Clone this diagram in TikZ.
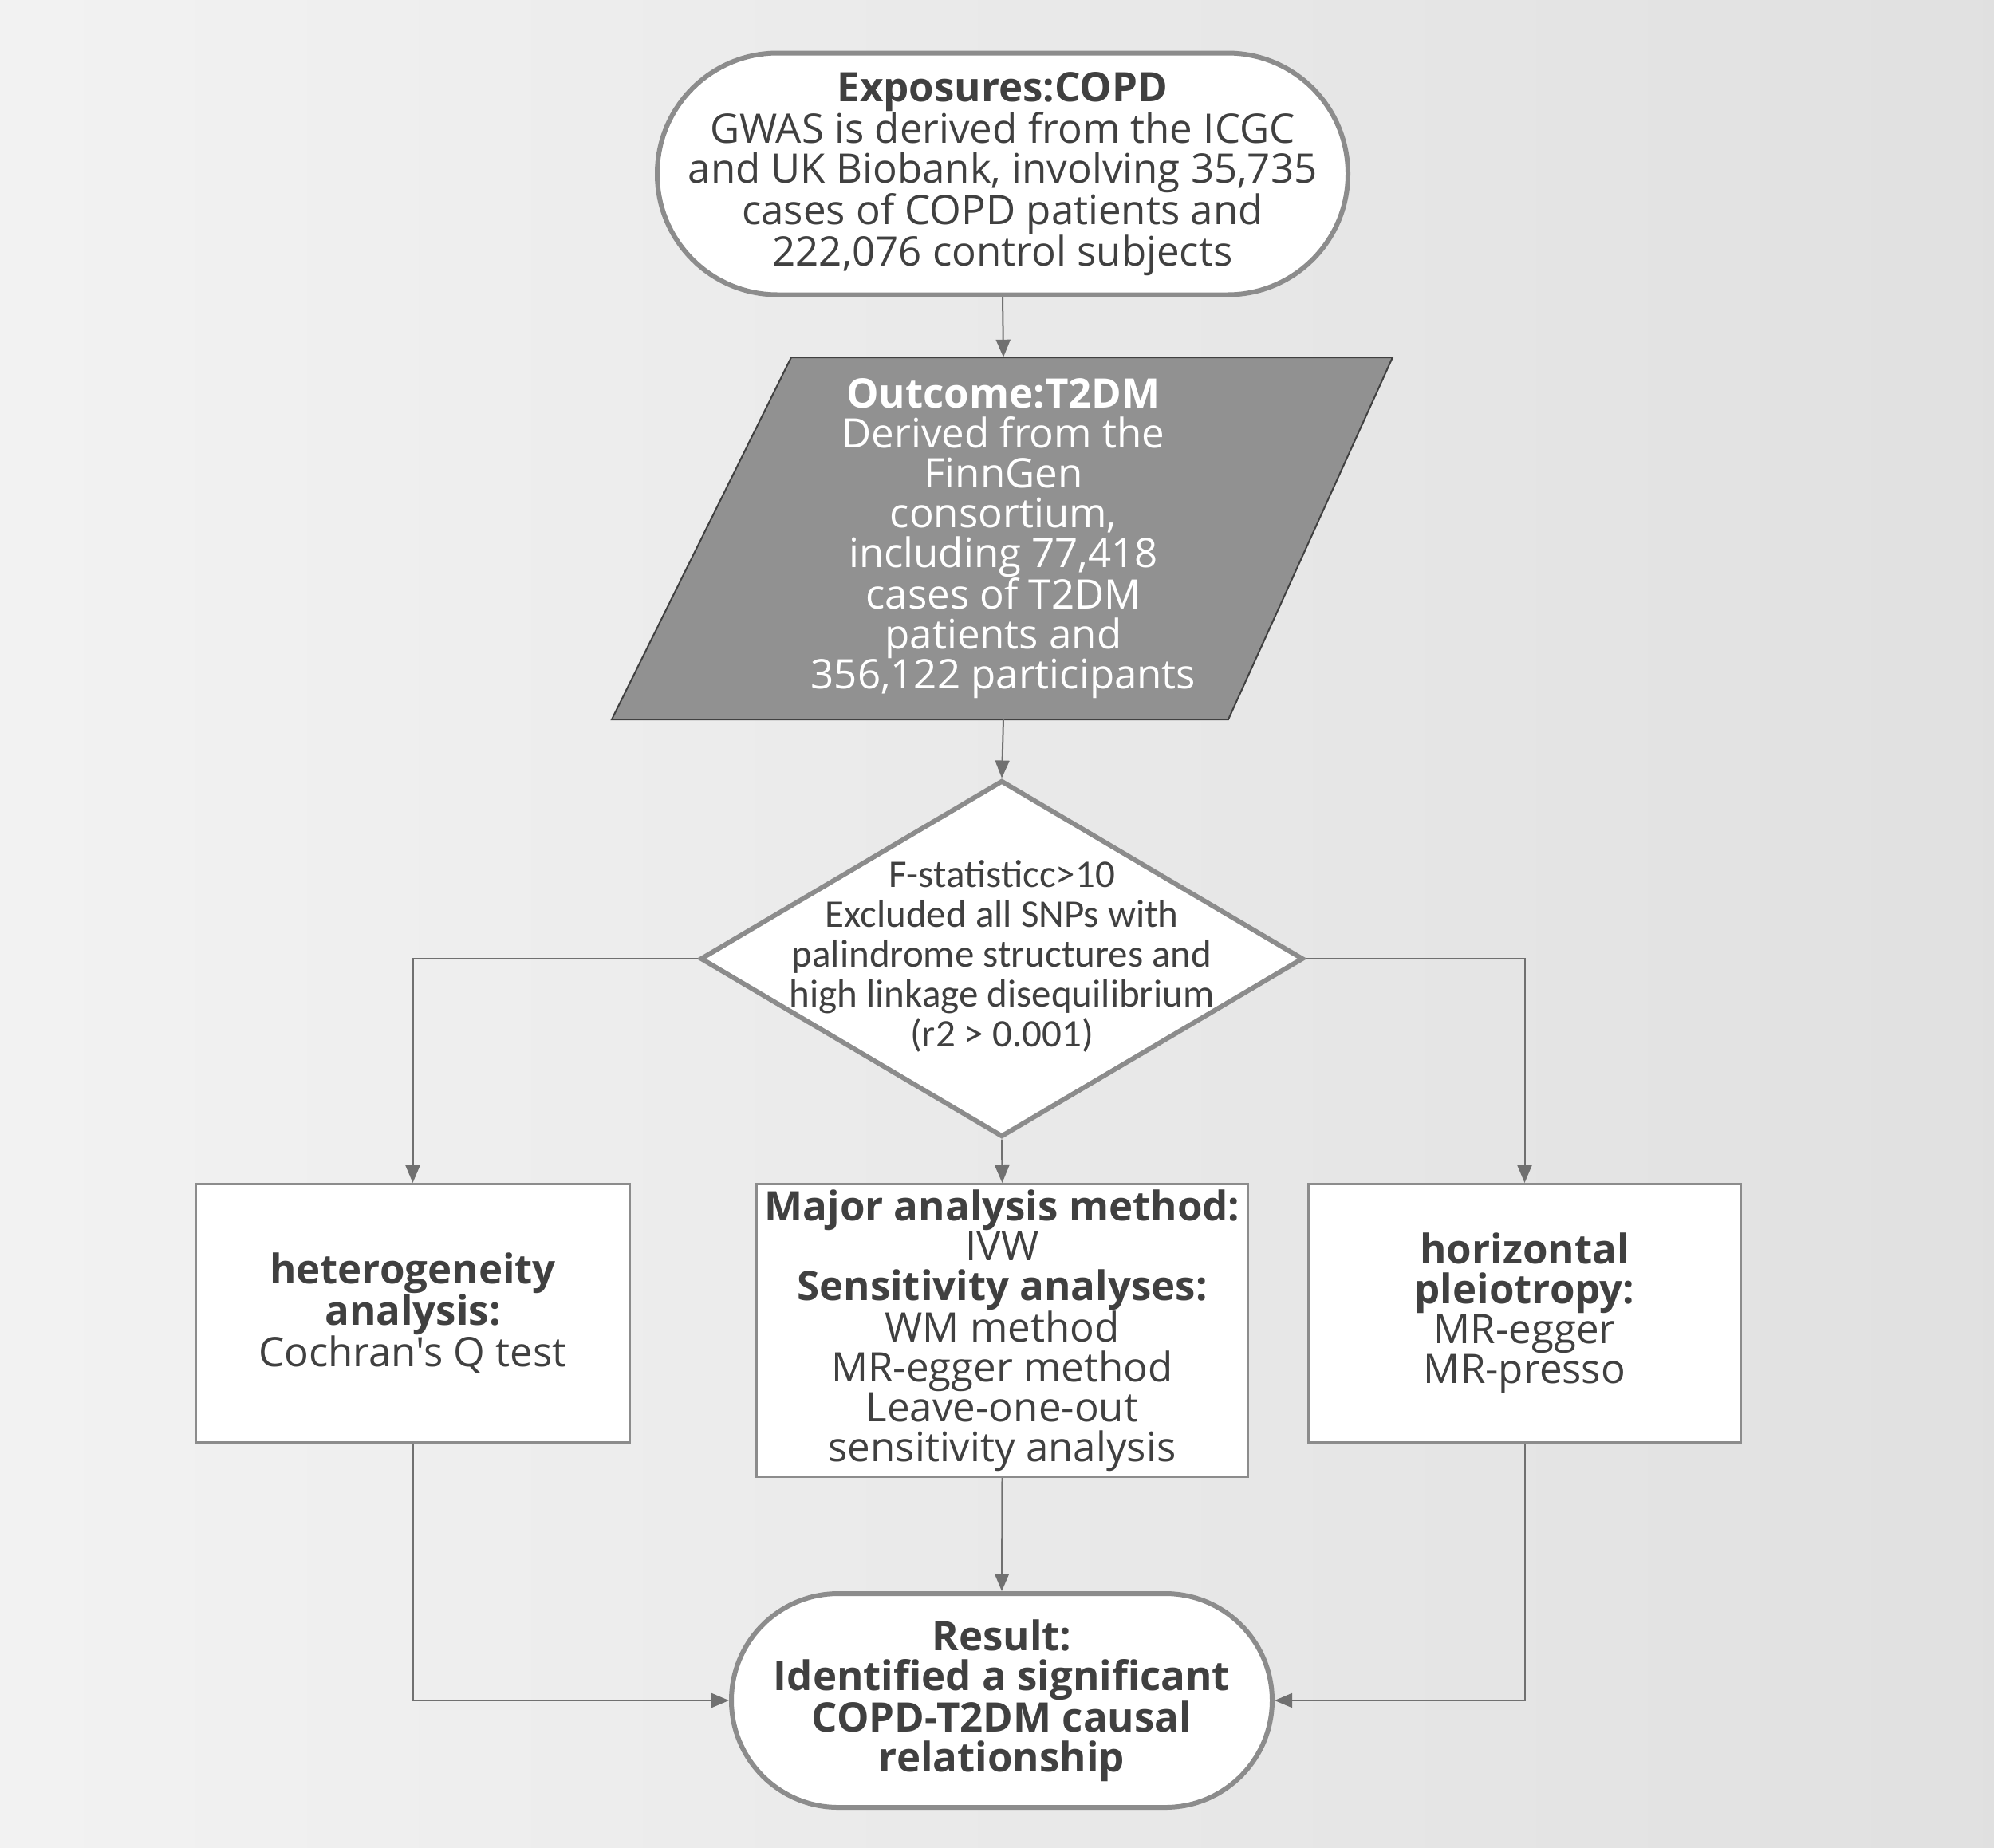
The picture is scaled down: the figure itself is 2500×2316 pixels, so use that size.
\documentclass[tikz,border=0pt]{standalone}
\usepackage{fontspec}
\setmainfont{Open Sans}[Ligatures=TeXOff]
\newfontfamily\calfont{Carlito}
\usetikzlibrary{shapes.geometric,arrows.meta}
\definecolor{txtgray}{HTML}{404040}
\definecolor{edgegray}{HTML}{8C8C8C}
\definecolor{linegray}{HTML}{707070}
\definecolor{slantfill}{HTML}{919191}
\begin{document}
\begin{tikzpicture}[x=1pt, y=1pt,
    every node/.style={text=txtgray, align=center, font=\fontsize{51}{50}\selectfont},
    terminal/.style={draw=edgegray, line width=6pt, fill=white},
    slantbox/.style={draw=black!75, line width=2pt, fill=slantfill, line join=miter},
    decision/.style={diamond, draw=edgegray, line width=6pt, fill=white,
        minimum width=756pt, minimum height=447pt, inner sep=0pt},
    methodbox/.style={rectangle, draw=edgegray, line width=3pt, fill=white}]

    % background
    \shade[left color=black!5, right color=black!12] (0,0) rectangle (2500,-2316);
    \useasboundingbox (0,0) rectangle (2500,-2316);

    \node[terminal, rounded corners=151pt, minimum width=866pt, minimum height=303pt] (expo) at (1257,-218)
        {\textbf{Exposures:COPD}\\GWAS is derived from the ICGC\\and UK Biobank, involving 35,735\\cases of COPD patients and\\222,076 control subjects};

    % outcome parallelogram
    \draw[slantbox] (992,-448) -- (1746,-448) -- (1540,-902) -- (767,-902) -- cycle;
    \node[text=white, minimum height=454pt, inner sep=0pt] (out) at (1258,-675)
        {\textbf{Outcome:T2DM}\\Derived from the\\FinnGen\\consortium,\\including 77,418\\cases of T2DM\\patients and\\356,122 participants};

    \node[decision] (filt) at (1256,-1202) {};
    \node[font=\calfont\fontsize{49}{50}\selectfont] (filttxt) at (1256,-1199)
        {F-statisticc>10\\Excluded all SNPs with\\palindrome structures and\\high linkage disequilibrium\\(r2 > 0.001)};

    \node[methodbox, minimum width=544pt, minimum height=324pt] (het) at (517.5,-1646.5)
        {\textbf{heterogeneity}\\\textbf{analysis:}\\Cochran's Q test};
    \node[methodbox, minimum width=616pt, minimum height=367pt, inner sep=0pt] (main) at (1256.5,-1668)
        {\textbf{Major analysis method:}\\IVW\\\textbf{Sensitivity analyses:}\\WM method\\MR-egger method\\Leave-one-out\\sensitivity analysis};
    \node[methodbox, minimum width=542pt, minimum height=324pt] (pleio) at (1911.5,-1646.5)
        {\textbf{horizontal}\\\textbf{pleiotropy:}\\MR-egger\\MR-presso};

    \node[terminal, rounded corners=134pt, minimum width=678pt, minimum height=268pt] (res) at (1256,-2132)
        {\textbf{Result:}\\\textbf{Identified a significant}\\\textbf{COPD-T2DM causal}\\\textbf{relationship}};

    \begin{scope}[every path/.style={draw=linegray, line width=2pt, -{Triangle[length=22pt,width=18pt]}}]
    \draw (expo.south) -- (out.north);
    \draw (out.south) -- (filt.north);
    \draw (filt.south) -- (main.north);
    \draw (filt.west) -| (het.north);
    \draw (filt.east) -| (pleio.north);
    \draw (main.south) -- (res.north);
    \draw (het.south) |- (res.west);
    \draw (pleio.south) |- (res.east);
    \end{scope}

\end{tikzpicture}
\end{document}
